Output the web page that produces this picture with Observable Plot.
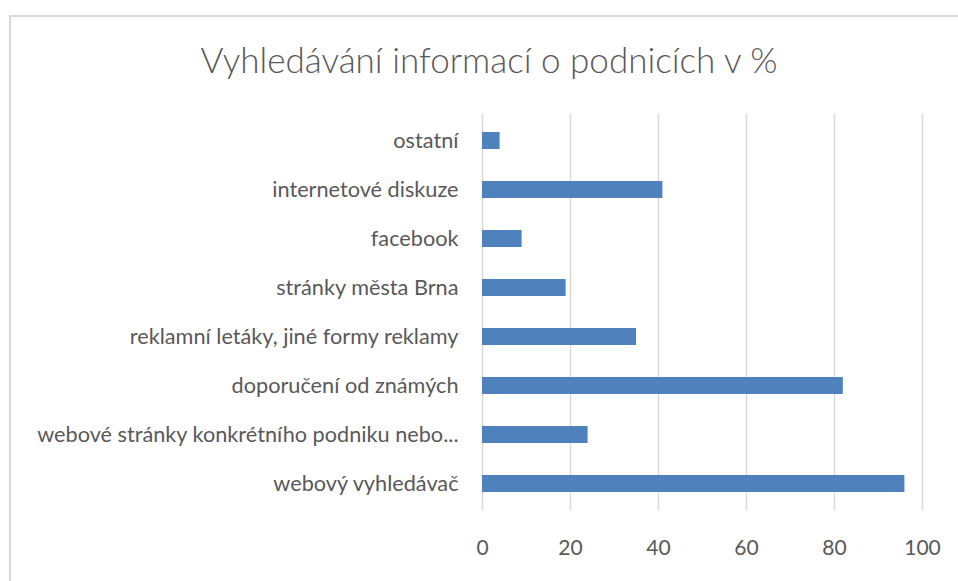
<!DOCTYPE html>
<html>
<head>
<meta charset="utf-8">
<script src="https://cdn.jsdelivr.net/npm/d3@7"></script>
<script src="https://cdn.jsdelivr.net/npm/@observablehq/plot@0.6"></script>
<style>
  html, body { margin: 0; padding: 0; background: #fff; width: 958px; height: 581px; overflow: hidden; }
  #frame { position: absolute; left: 9px; top: 15px; width: 1000px; height: 700px; border-left: 2px solid #d9d9d9; border-top: 2px solid #d9d9d9; box-sizing: border-box; }
  #title { position: absolute; left: 0; top: 0; width: 958px; height: 90px; display: flex; align-items: center; justify-content: center; padding-left: 20px; box-sizing: border-box; padding-top: 28px;
    font-family: Lato, "Open Sans", sans-serif; font-weight: 300; font-size: 35px; color: #595959; }
  #chart { position: absolute; left: 0; top: 90px; }
</style>
</head>
<body>
<div id="frame"></div>
<div id="title">Vyhledávání informací o podnicích v %</div>
<div id="chart"></div>
<script>
const categories = [
  "ostatní",
  "internetové diskuze",
  "facebook",
  "stránky města Brna",
  "reklamní letáky, jiné formy reklamy",
  "doporučení od známých",
  "webové stránky konkrétního podniku nebo...",
  "webový vyhledávač"
];
const values = [4, 41, 9, 19, 35, 82, 24, 96];
const xTicks = [0, 20, 40, 60, 80, 100];

const data = categories.map((c, i) => ({category: c, value: values[i]}));

const chart = Plot.plot({
  width: 958,
  height: 491,
  marginLeft: 482,
  marginRight: 36,
  marginTop: 24,
  marginBottom: 71,
  style: {fontFamily: "Lato, 'Open Sans', sans-serif", fontSize: "20px", color: "#595959", background: "transparent"},
  x: {domain: [0, 100], ticks: xTicks},
  y: {domain: categories, padding: 0.65, paddingOuter: 0.325},
  marks: [
    Plot.ruleX(xTicks, {stroke: "#d9d9d9", strokeWidth: 1.5}),
    Plot.barX(data, {x: "value", y: "category", fill: "#4f81bd"}),
    Plot.axisX({ticks: xTicks, tickSize: 0, tickPadding: 30, label: null, fontSize: 21, fill: "#595959"}),
    Plot.axisY({tickSize: 0, tickPadding: 24, label: null, fontSize: 21.7, fill: "#595959"})
  ]
});
document.getElementById("chart").appendChild(chart);
</script>
</body>
</html>
